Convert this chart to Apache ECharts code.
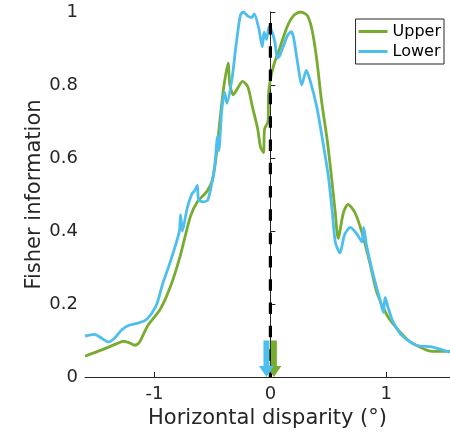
<!DOCTYPE html>
<html>
<head>
<meta charset="utf-8">
<script src="https://cdn.jsdelivr.net/npm/echarts@6/dist/echarts.min.js"></script>
<style>html,body{margin:0;padding:0;background:#fff}#c{width:450px;height:434px}</style>
</head>
<body>
<div id="c"></div>
<script>
// Disparity (deg) / Fisher information pairs
const upperX = [-1.6,-1.45,-1.32,-1.27,-1.22,-1.17,-1.13,-1.06,-0.95,-0.86,-0.78,-0.69,-0.63,-0.545,-0.50,-0.47,-0.43,-0.40,-0.365,-0.35,-0.32,-0.285,-0.24,-0.195,-0.155,-0.11,-0.085,-0.06,-0.05,-0.02,-0.015,0.025,0.085,0.145,0.20,0.26,0.32,0.36,0.40,0.44,0.49,0.53,0.56,0.585,0.63,0.67,0.73,0.79,0.86,0.92,1.01,1.10,1.20,1.29,1.38,1.55];
const upperY = [0.057,0.075,0.092,0.098,0.094,0.087,0.095,0.14,0.186,0.25,0.33,0.44,0.48,0.51,0.54,0.60,0.72,0.80,0.86,0.80,0.773,0.79,0.81,0.795,0.74,0.68,0.63,0.615,0.68,0.70,0.78,0.85,0.905,0.96,0.99,1.0,0.99,0.95,0.87,0.76,0.65,0.54,0.45,0.38,0.45,0.473,0.45,0.396,0.31,0.23,0.167,0.13,0.098,0.082,0.071,0.07];
const lowerX = [-1.6,-1.52,-1.45,-1.40,-1.35,-1.28,-1.22,-1.15,-1.08,-1.03,-0.98,-0.93,-0.87,-0.82,-0.785,-0.775,-0.76,-0.72,-0.68,-0.655,-0.63,-0.62,-0.58,-0.54,-0.50,-0.48,-0.455,-0.445,-0.42,-0.395,-0.375,-0.33,-0.30,-0.26,-0.235,-0.19,-0.16,-0.14,-0.10,-0.07,-0.055,-0.035,-0.01,0.015,0.04,0.06,0.08,0.11,0.15,0.18,0.20,0.24,0.27,0.31,0.345,0.40,0.45,0.50,0.535,0.56,0.60,0.64,0.69,0.75,0.79,0.805,0.83,0.89,0.945,0.975,0.99,1.02,1.06,1.14,1.26,1.40,1.55];
const lowerY = [0.112,0.117,0.105,0.096,0.105,0.13,0.142,0.147,0.155,0.172,0.20,0.255,0.31,0.36,0.40,0.445,0.40,0.46,0.50,0.51,0.525,0.485,0.48,0.485,0.54,0.58,0.66,0.62,0.73,0.78,0.75,0.82,0.90,0.99,1.0,0.988,0.985,0.995,0.955,0.905,0.945,0.925,0.96,0.945,0.915,0.874,0.88,0.905,0.937,0.946,0.93,0.85,0.80,0.84,0.81,0.74,0.65,0.55,0.45,0.37,0.34,0.39,0.41,0.39,0.37,0.41,0.36,0.277,0.213,0.177,0.218,0.186,0.15,0.112,0.087,0.082,0.068];
// zero-disparity reference line (drawn top to bottom)
const refX = [0, 0];
const refY = [0.97, 0];
// arrow markers (preferred disparity): x positions and arrow top
const arrowUpperX = 0.03;
const arrowLowerX = -0.034;
const arrowTop = 0.1;
// tick labels
const xTicks = [-1, 0, 1];

const GREEN = '#77AC30', BLUE = '#4DBEEE', AX = '#262626';
const zip = (a, b) => a.map((v, i) => [v, b[i]]);

function arrowItem(color) {
  return function (params, api) {
    const x = api.value(0), top = api.value(1);
    const pt = api.coord([x, top]);
    const pb = api.coord([x, 0]);
    const cx = pt[0], sw = 3, hw = 7.5, hh = 11;
    return {
      type: 'polygon',
      shape: { points: [[cx - sw, pt[1]], [cx + sw, pt[1]], [cx + sw, pb[1] - hh], [cx + hw, pb[1] - hh], [cx, pb[1]], [cx - hw, pb[1] - hh], [cx - sw, pb[1] - hh]] },
      style: { fill: color }
    };
  };
}

const chart = echarts.init(document.getElementById('c'), null, { renderer: 'canvas' });
chart.setOption({
  animation: false,
  backgroundColor: '#fff',
  textStyle: { fontFamily: 'DejaVu Sans' },
  grid: { left: 85, right: 0, top: 12, bottom: 56 },
  legend: {
    data: ['Upper', 'Lower'],
    orient: 'vertical',
    right: 6, top: 19,
    icon: 'rect', itemWidth: 29, itemHeight: 3, itemGap: 3,
    padding: [4, 3, 4, 3],
    borderColor: AX, borderWidth: 1, backgroundColor: '#fff',
    textStyle: { fontFamily: 'DejaVu Sans', fontSize: 16, color: '#000', lineHeight: 17 }
  },
  xAxis: {
    type: 'value', min: -1.6, max: 1.55,
    name: 'Horizontal disparity (°)', nameLocation: 'middle', nameGap: 31, nameMoveOverlap: false,
    nameTextStyle: { fontFamily: 'DejaVu Sans', fontSize: 21, color: AX },
    axisLine: { show: true, onZero: false, lineStyle: { color: AX, width: 1 } },
    axisTick: { show: true, inside: true, length: 5, customValues: xTicks, lineStyle: { color: AX } },
    axisLabel: { customValues: xTicks, fontFamily: 'DejaVu Sans', fontSize: 18, color: AX, margin: 8 },
    splitLine: { show: false }
  },
  yAxis: {
    type: 'value', min: 0, max: 1, interval: 0.2,
    name: 'Fisher information', nameLocation: 'middle', nameGap: 40, nameMoveOverlap: false,
    nameTextStyle: { fontFamily: 'DejaVu Sans', fontSize: 21, color: AX },
    axisLine: { show: true, lineStyle: { color: AX, width: 1 } },
    axisTick: { show: true, inside: true, length: 5, lineStyle: { color: AX } },
    axisLabel: { fontFamily: 'DejaVu Sans', fontSize: 18, color: AX, margin: 7, formatter: v => String(+v.toFixed(1)) },
    splitLine: { show: false }
  },
  series: [
    { name: 'Upper', type: 'line', data: zip(upperX, upperY), showSymbol: false, smooth: 0.25, color: GREEN, lineStyle: { color: GREEN, width: 2.8 }, z: 2 },
    { name: 'Lower', type: 'line', data: zip(lowerX, lowerY), showSymbol: false, smooth: 0.25, color: BLUE, lineStyle: { color: BLUE, width: 2.8 }, z: 3 },
    { name: 'ref', type: 'line', data: zip(refX, refY), showSymbol: false, lineStyle: { color: '#000', width: 3.2, type: [11.5, 11.8] }, z: 4 },
    { name: 'arrowU', type: 'custom', data: [[arrowUpperX, arrowTop]], renderItem: arrowItem(GREEN), z: 5 },
    { name: 'arrowL', type: 'custom', data: [[arrowLowerX, arrowTop]], renderItem: arrowItem(BLUE), z: 6 }
  ]
});
</script>
</body>
</html>
